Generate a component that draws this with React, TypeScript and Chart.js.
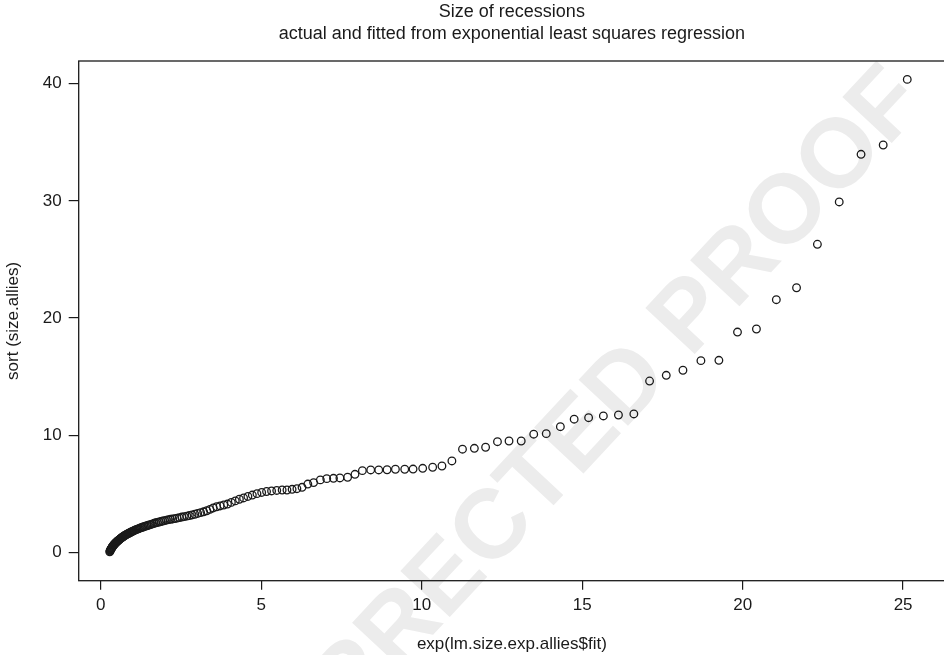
import React, { useEffect, useRef } from "react";
import { Chart, registerables } from "chart.js";

Chart.register(...registerables);

// fitted values (x), lower dense part
const fittedLow = [
  0.277, 0.285, 0.294, 0.303, 0.312, 0.322, 0.331, 0.341, 0.352, 0.362,
  0.373, 0.385, 0.396, 0.408, 0.421, 0.433, 0.447, 0.46, 0.474, 0.488,
  0.503, 0.518, 0.534, 0.55, 0.567, 0.584, 0.602, 0.62, 0.639, 0.658,
  0.678, 0.699, 0.72, 0.742, 0.764, 0.787, 0.811, 0.836, 0.861, 0.887,
  0.914, 0.942, 0.97, 1.0, 1.03, 1.061, 1.093, 1.127, 1.161, 1.196,
  1.232, 1.27, 1.308, 1.348, 1.388, 1.431, 1.474, 1.519, 1.565, 1.612,
  1.661, 1.711, 1.763, 1.816, 1.871, 1.928, 1.987, 2.047, 2.109, 2.173,
  2.239, 2.306, 2.376, 2.448, 2.522, 2.599, 2.678, 2.759, 2.842, 2.928,
  3.017, 3.109, 3.203, 3.3, 3.4, 3.503, 3.609, 3.718, 3.831, 3.947,
  4.067, 4.19, 4.317, 4.448, 4.583, 4.721, 4.865, 5.012, 5.164, 5.32,
  5.482,
];
// fitted values (x), upper sparse part
const fittedHigh = [
  5.65, 5.8, 5.96, 6.11, 6.27, 6.45, 6.63, 6.84, 7.04, 7.25,
  7.45, 7.69, 7.92, 8.15, 8.41, 8.66, 8.92, 9.18, 9.47, 9.73,
  10.03, 10.34, 10.63, 10.94, 11.27, 11.64, 11.99, 12.36, 12.72, 13.1,
  13.49, 13.88, 14.32, 14.75, 15.2, 15.66, 16.13, 16.61, 17.1, 17.62,
  18.14, 18.7, 19.26, 19.84, 20.43, 21.05, 21.68, 22.33, 23.01, 23.69,
  24.38, 25.13,
];
// sorted sizes (y), lower dense part
const sizesLow = [
  0.05, 0.12, 0.18, 0.22, 0.27, 0.31, 0.36, 0.4, 0.45, 0.5,
  0.53, 0.58, 0.62, 0.66, 0.7, 0.74, 0.78, 0.82, 0.86, 0.89,
  0.93, 0.97, 1.01, 1.04, 1.08, 1.12, 1.16, 1.2, 1.24, 1.28,
  1.32, 1.36, 1.4, 1.44, 1.48, 1.52, 1.55, 1.59, 1.63, 1.66,
  1.7, 1.74, 1.78, 1.82, 1.86, 1.9, 1.94, 1.97, 2.01, 2.05,
  2.09, 2.13, 2.17, 2.2, 2.24, 2.28, 2.32, 2.35, 2.4, 2.44,
  2.49, 2.53, 2.56, 2.6, 2.64, 2.68, 2.72, 2.76, 2.8, 2.83,
  2.86, 2.89, 2.93, 2.97, 3.02, 3.06, 3.1, 3.15, 3.2, 3.26,
  3.33, 3.4, 3.47, 3.56, 3.68, 3.8, 3.9, 3.97, 4.05, 4.13,
  4.27, 4.4, 4.54, 4.65, 4.78, 4.9, 5.02, 5.12, 5.2, 5.25,
  5.29,
];
// sorted sizes (y), upper sparse part
const sizesHigh = [
  5.33, 5.33, 5.39, 5.44, 5.56, 5.84, 5.96, 6.19, 6.3, 6.33,
  6.36, 6.42, 6.67, 6.98, 7.04, 7.04, 7.06, 7.1, 7.1, 7.12,
  7.18, 7.27, 7.38, 7.81, 8.81, 8.89, 8.98, 9.45, 9.51, 9.51,
  10.09, 10.14, 10.73, 11.37, 11.5, 11.65, 11.73, 11.82, 14.63, 15.12,
  15.55, 16.37, 16.4, 18.81, 19.07, 21.57, 22.59, 26.3, 29.91, 33.98,
  34.77, 40.37,
];

const xTicks = [0, 5, 10, 15, 20, 25];
const yTicks = [0, 10, 20, 30, 40];
const titleLines = [
  "Size of recessions",
  "actual and fitted from exponential least squares regression",
];
const xTitle = "exp(lm.size.exp.allies$fit)";
const yTitle = "sort (size.allies)";
const watermarkText = "UNCORRECTED PROOF";

const FONT = "'Liberation Sans', Arial, Helvetica, sans-serif";
const INK = "#1a1a1a";

const framePlugin = {
  id: "rframe",
  beforeDraw(chart: any) {
    const ctx = chart.ctx;
    ctx.save();
    ctx.translate(928, 104);
    ctx.rotate((-47 * Math.PI) / 180);
    ctx.fillStyle = "#ececec";
    ctx.font = `bold 98px ${FONT}`;
    ctx.textAlign = "right";
    ctx.textBaseline = "alphabetic";
    ctx.fillText(watermarkText, 0, 0);
    ctx.restore();
  },
  afterDraw(chart: any) {
    const ctx = chart.ctx;
    const a = chart.chartArea;
    ctx.save();
    ctx.strokeStyle = INK;
    ctx.lineWidth = 1.3;
    ctx.strokeRect(a.left, a.top, a.right - a.left + 20, a.bottom - a.top);
    ctx.fillStyle = INK;
    ctx.textAlign = "center";
    ctx.textBaseline = "middle";
    ctx.font = `18px ${FONT}`;
    const cx = (a.left + 945) / 2;
    ctx.fillText(titleLines[0], cx, 12);
    ctx.fillText(titleLines[1], cx, 34);
    ctx.font = `17px ${FONT}`;
    ctx.fillText(xTitle, cx, 644);
    ctx.translate(13, (a.top + a.bottom) / 2);
    ctx.rotate(-Math.PI / 2);
    ctx.fillText(yTitle, 0, 0);
    ctx.restore();
  },
};

export default function App() {
  const ref = useRef<HTMLCanvasElement | null>(null);
  useEffect(() => {
    if (!ref.current) return;
    const xs = [...fittedLow, ...fittedHigh];
    const ys = [...sizesLow, ...sizesHigh];
    const pts = xs.map((x, i) => ({ x, y: ys[i] }));
    const chart = new Chart(ref.current, {
      type: "scatter",
      data: {
        datasets: [
          {
            data: pts,
            pointStyle: "circle",
            pointRadius: 3.8,
            pointBorderWidth: 1.3,
            pointBackgroundColor: "rgba(0,0,0,0)",
            pointBorderColor: INK,
            borderColor: INK,
            backgroundColor: "rgba(0,0,0,0)",
          },
        ],
      },
      options: {
        animation: false,
        responsive: false,
        maintainAspectRatio: false,
        layout: { padding: { top: 61, left: 0, right: 0, bottom: 0 } },
        plugins: {
          legend: { display: false },
          title: { display: false },
          tooltip: { enabled: false },
        },
        scales: {
          x: {
            type: "linear",
            min: -0.69,
            max: 26.11,
            afterBuildTicks: (s: any) => {
              s.ticks = xTicks.map((v) => ({ value: v }));
            },
            afterFit: (s: any) => {
              s.height = 74.3;
            },
            grid: {
              display: true,
              drawOnChartArea: false,
              drawTicks: true,
              tickLength: 9,
              color: INK,
              lineWidth: 1.2,
            },
            border: { display: false },
            ticks: {
              color: INK,
              font: { family: FONT, size: 17 },
              padding: 5,
              maxRotation: 0,
              autoSkip: false,
            },
          },
          y: {
            type: "linear",
            min: -2.41,
            max: 41.94,
            afterBuildTicks: (s: any) => {
              s.ticks = yTicks.map((v) => ({ value: v }));
            },
            afterFit: (s: any) => {
              s.width = 78.7;
            },
            grid: {
              display: true,
              drawOnChartArea: false,
              drawTicks: true,
              tickLength: 10,
              color: INK,
              lineWidth: 1.2,
            },
            border: { display: false },
            ticks: {
              color: INK,
              font: { family: FONT, size: 17 },
              padding: 7,
              autoSkip: false,
            },
          },
        },
      },
      plugins: [framePlugin],
    });
    return () => chart.destroy();
  }, []);
  return (
    <div style={{ position: "fixed", left: 0, top: 0, width: 944, height: 655, background: "#fff" }}>
      <canvas ref={ref} width={944} height={655} style={{ display: "block" }} />
    </div>
  );
}
